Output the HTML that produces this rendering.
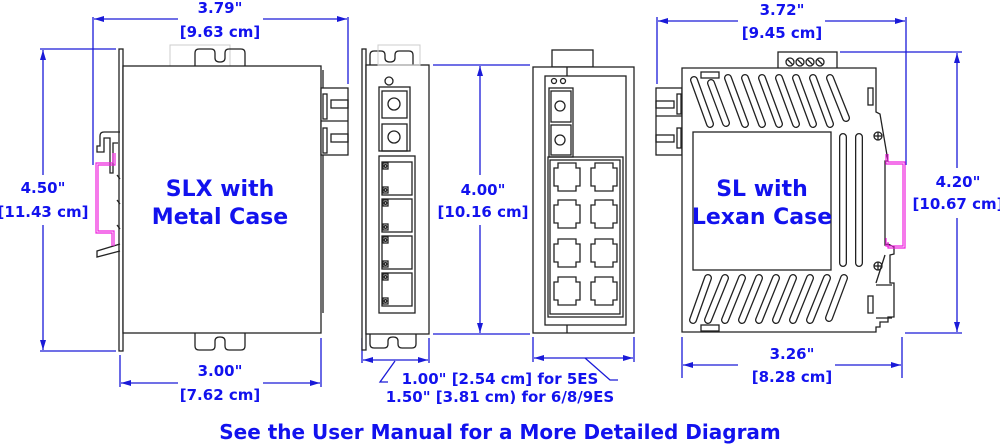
<!DOCTYPE html>
<html><head><meta charset="utf-8"><style>
html,body{margin:0;padding:0;background:#fff;width:1000px;height:445px;overflow:hidden}
text{font-family:"DejaVu Sans","Liberation Sans",sans-serif;font-weight:bold;fill:#1212ee}
</style></head><body>
<svg width="1000" height="445" viewBox="0 0 1000 445" xmlns="http://www.w3.org/2000/svg">
<defs>
<marker id="a" viewBox="0 0 10 6" refX="10" refY="3" markerWidth="10" markerHeight="6" orient="auto-start-reverse" markerUnits="userSpaceOnUse"><path d="M0,0L10,3L0,6z" fill="#1a1ad8"/></marker>
</defs>
<g stroke="#1a1ad8" stroke-width="1.3" fill="none">
<line x1="93" y1="17" x2="93" y2="165"/>
<line x1="348" y1="17" x2="348" y2="84"/>
<line x1="94" y1="19" x2="178" y2="19" marker-start="url(#a)"/>
<line x1="263" y1="19" x2="347" y2="19" marker-end="url(#a)"/>
<line x1="40" y1="49" x2="116" y2="49"/>
<line x1="40" y1="351" x2="116" y2="351"/>
<line x1="43" y1="50" x2="43" y2="175" marker-start="url(#a)"/>
<line x1="43" y1="225" x2="43" y2="350" marker-end="url(#a)"/>
<line x1="120" y1="355" x2="120" y2="387"/>
<line x1="321" y1="338" x2="321" y2="387"/>
<line x1="121" y1="383" x2="178" y2="383" marker-start="url(#a)"/>
<line x1="263" y1="383" x2="320" y2="383" marker-end="url(#a)"/>
<line x1="433" y1="65" x2="530" y2="65"/>
<line x1="433" y1="334" x2="530" y2="334"/>
<line x1="480" y1="66" x2="480" y2="175" marker-start="url(#a)"/>
<line x1="480" y1="225" x2="480" y2="333" marker-end="url(#a)"/>
<line x1="362" y1="338" x2="362" y2="363"/>
<line x1="429" y1="338" x2="429" y2="363"/>
<line x1="363" y1="360" x2="428" y2="360" marker-start="url(#a)" marker-end="url(#a)"/>
<polyline points="395,361 380,382 388,382"/>
<line x1="533" y1="337" x2="533" y2="362"/>
<line x1="634" y1="337" x2="634" y2="362"/>
<line x1="534" y1="358" x2="633" y2="358" marker-start="url(#a)" marker-end="url(#a)"/>
<polyline points="585,358 610,380 618,380"/>
<line x1="657" y1="17" x2="657" y2="84"/>
<line x1="906" y1="17" x2="906" y2="165"/>
<line x1="658" y1="21" x2="738" y2="21" marker-start="url(#a)"/>
<line x1="825" y1="21" x2="905" y2="21" marker-end="url(#a)"/>
<line x1="840" y1="52" x2="962" y2="52"/>
<line x1="905" y1="333" x2="962" y2="333"/>
<line x1="957" y1="53" x2="957" y2="168" marker-start="url(#a)"/>
<line x1="957" y1="218" x2="957" y2="332" marker-end="url(#a)"/>
<line x1="682" y1="337" x2="682" y2="378"/>
<line x1="902" y1="337" x2="902" y2="378"/>
<line x1="683" y1="365" x2="738" y2="365" marker-start="url(#a)"/>
<line x1="835" y1="365" x2="901" y2="365" marker-end="url(#a)"/>
</g>

<g stroke="#222" stroke-width="1.3" fill="none">
<rect x="170" y="45" width="60" height="21" stroke="#ccc" stroke-width="1"/>
<rect x="119" y="49" width="4" height="302" fill="#fff"/>
<rect x="123" y="66" width="198" height="267" fill="#fff"/>
<path d="M195,66V53q0-4 4-4h12q4,0 4,4v5q0,4 5,4t5-4v-5q0-4 4-4h12q4,0 4,4v13"/>
<path d="M195,333v13q0,4 4,4h12q4,0 4-4v-5q0-4 5-4t5,4v5q0,4 4,4h12q4,0 4-4v-13"/>
<line x1="323" y1="70" x2="323" y2="313"/>
<rect x="321" y="88" width="27" height="67" fill="#fff"/>
<line x1="321" y1="121" x2="348" y2="121"/>
<rect x="323" y="94" width="4" height="25"/><rect x="323" y="128" width="4" height="25"/>
<rect x="331" y="100" width="17" height="8"/><rect x="331" y="134" width="17" height="8"/>
<path d="M120,132h-16q-4,0-4,4v10h-3v6h7v-14h6v35h3v-30h5"/>
<path d="M120,244l-23,7v6l23-6"/>
<path d="M117,175l3,4M117,200l3,4M117,225l3,4"/>
<rect x="362" y="49" width="4" height="301" fill="#fff"/>
<rect x="366" y="65" width="63" height="269" fill="#fff"/>
<path d="M370,65V55q0-4 4-4h7q4,0 4,4v3q0,4 5,4t5-4v-3q0-4 4-4h10q4,0 4,4v10" />
<rect x="378" y="45" width="42" height="20" stroke="#ccc" stroke-width="1"/>
<path d="M370,334v10q0,4 4,4h10q4,0 4-4v-3q0-4 5-4t5,4v3q0,4 4,4h10q4,0 4-4v-10"/>
<circle cx="389" cy="81" r="4"/>
<rect x="379" y="87" width="31" height="64"/>
<rect x="382" y="91" width="25" height="27"/><circle cx="394" cy="104" r="6"/>
<rect x="382" y="124" width="25" height="27"/><circle cx="394" cy="137" r="6"/>
<rect x="379" y="156" width="36" height="157"/>
<g id="p"><rect x="382" y="162" width="30" height="33"/><rect x="383" y="163" width="5" height="6"/><circle cx="385.5" cy="166" r="1.3"/><rect x="383" y="187" width="5" height="6"/><circle cx="385.5" cy="190" r="1.3"/></g>
<use href="#p" y="37"/><use href="#p" y="74"/><use href="#p" y="111"/>
<rect x="552" y="50" width="41" height="17"/>
<rect x="533" y="67" width="101" height="266" fill="#fff"/>
<rect x="545" y="76" width="81" height="249"/>
<line x1="567" y1="67" x2="567" y2="76"/><line x1="567" y1="325" x2="567" y2="333"/>
<circle cx="554" cy="81" r="2.5"/><circle cx="563" cy="81" r="2.5"/>
<rect x="549" y="88" width="24" height="69"/>
<rect x="551" y="91" width="20" height="31"/><circle cx="560" cy="106" r="5"/>
<rect x="551" y="125" width="20" height="30"/><circle cx="560" cy="140" r="5"/>
<rect x="548" y="157" width="75" height="160"/><rect x="550" y="160" width="70" height="154"/>
<g id="r"><path d="M558,163h18v5h4v18h-4v5h-18v-5h-4v-18h4z"/></g>
<use href="#r" x="37"/><use href="#r" y="37"/><use href="#r" x="37" y="37"/>
<use href="#r" y="76"/><use href="#r" x="37" y="76"/><use href="#r" y="114"/><use href="#r" x="37" y="114"/>
<rect x="778" y="52" width="59" height="19" fill="#fff"/>
<g><circle cx="790" cy="62" r="4"/><line x1="787" y1="59" x2="793" y2="65"/>
<circle cx="800" cy="62" r="4"/><line x1="797" y1="59" x2="803" y2="65"/>
<circle cx="810" cy="62" r="4"/><line x1="807" y1="59" x2="813" y2="65"/>
<circle cx="820" cy="62" r="4"/><line x1="817" y1="59" x2="823" y2="65"/></g>
<rect x="656" y="88" width="26" height="67" fill="#fff"/>
<line x1="656" y1="116" x2="682" y2="116"/>
<rect x="677" y="94" width="4" height="20"/><rect x="677" y="128" width="4" height="20"/>
<rect x="656" y="101" width="18" height="7"/><rect x="656" y="135" width="18" height="7"/>
<path d="M682,68H876V112l4,2 8,47h-3V245l3-1 6,3v7l-4,1v28h4v34h-6v5h-8v5h-4v5H682Z" fill="#fff"/>
<rect x="693" y="132" width="138" height="138"/>
<rect x="701" y="72" width="18" height="6"/><rect x="701" y="325" width="18" height="6"/>
<rect x="868" y="88" width="5" height="17"/><rect x="868" y="296" width="5" height="17"/>
<circle cx="878" cy="136" r="4"/><line x1="874" y1="136" x2="882" y2="136"/><line x1="878" y1="132" x2="878" y2="140"/>
<circle cx="878" cy="266" r="4"/><line x1="874" y1="266" x2="882" y2="266"/><line x1="878" y1="262" x2="878" y2="270"/>
<path d="M876,285h16M876,318h16M885,255l-9,28"/>
</g>
<g fill="none" stroke-linecap="round">
<g stroke="#222" stroke-width="8">
<path d="M694,80l16,44M711,83l15,40M728,78l17,46M745,78l17,46M762,78l17,46M779,78l17,46M796,78l17,46M813,78l17,46M830,78l16,40"/>
<path d="M708,278l-15,42M725,278l-17,42M742,278l-17,42M759,278l-17,42M776,278l-17,42M793,278l-17,42M810,278l-17,42M827,278l-17,42M844,278l-15,40"/>
<path d="M843,137v126M859,137v126"/>
</g>
<g stroke="#fff" stroke-width="5.4">
<path d="M694,80l16,44M711,83l15,40M728,78l17,46M745,78l17,46M762,78l17,46M779,78l17,46M796,78l17,46M813,78l17,46M830,78l16,40"/>
<path d="M708,278l-15,42M725,278l-17,42M742,278l-17,42M759,278l-17,42M776,278l-17,42M793,278l-17,42M810,278l-17,42M827,278l-17,42M844,278l-15,40"/>
<path d="M843,137v126M859,137v126"/>
</g>
</g>
<g stroke="#ee22dd" stroke-width="1.2" fill="none">
<path d="M113,153v10H96v70h16v13M115,153v12H98v66h16v15"/>
<path d="M886,154v10h17v82h-17v-8M888,154v8h17v86h-17v-6"/>
</g>
<g text-anchor="middle" font-size="15">
<text x="220" y="13">3.79"</text><text x="220" y="37">[9.63 cm]</text>
<text x="43" y="193">4.50"</text><text x="43" y="217">[11.43 cm]</text>
<text x="220" y="376">3.00"</text><text x="220" y="400">[7.62 cm]</text>
<text x="483" y="195">4.00"</text><text x="483" y="217">[10.16 cm]</text>
<text x="500" y="384">1.00" [2.54 cm] for 5ES</text>
<text x="500" y="402">1.50" [3.81 cm) for 6/8/9ES</text>
<text x="782" y="15">3.72"</text><text x="782" y="38">[9.45 cm]</text>
<text x="958" y="187">4.20"</text><text x="958" y="209">[10.67 cm]</text>
<text x="792" y="359">3.26"</text><text x="792" y="382">[8.28 cm]</text>
<text x="220" y="196" font-size="22">SLX with</text>
<text x="220" y="224" font-size="22">Metal Case</text>
<text x="762" y="196" font-size="22">SL with</text>
<text x="762" y="224" font-size="22">Lexan Case</text>
<text x="500" y="439" font-size="20">See the User Manual for a More Detailed Diagram</text>
</g>
</svg>
</body></html>
